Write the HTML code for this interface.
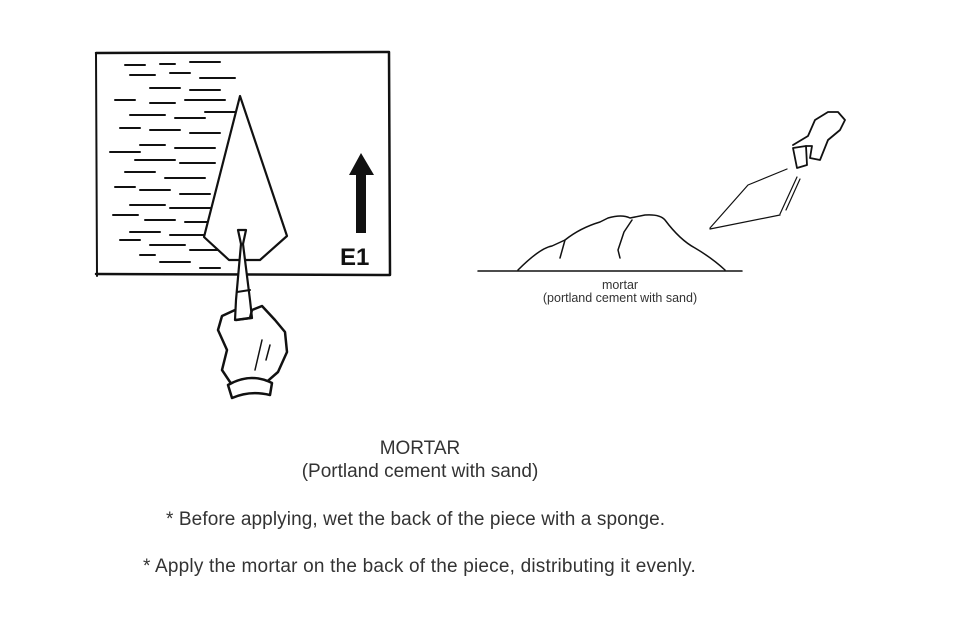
<!DOCTYPE html>
<html><head><style>
html,body{margin:0;padding:0;background:#fff;}
body{width:964px;height:624px;position:relative;overflow:hidden;font-family:"Liberation Sans",sans-serif;color:#333;}
.t{position:absolute;white-space:nowrap;text-align:center;}
</style></head><body>
<svg width="964" height="624" style="position:absolute;left:0;top:0" xmlns="http://www.w3.org/2000/svg">
<g fill="none" stroke="#111" stroke-linecap="round" stroke-linejoin="round">
<path d="M96 53 L389 52 L390 275 L96 274" stroke-width="2.5"/>
<path d="M96 53 L97 276" stroke-width="2"/>
<g stroke-width="2">
<path d="M125 65h20M160 64h15M190 62h30M130 75h25M170 73h20M200 78h35M150 88h30M190 90h30M115 100h20M150 103h25M185 100h40M130 115h35M175 118h30M205 112h30M120 128h20M150 130h30M190 133h30M140 145h25M175 148h40M110 152h30M135 160h40M180 163h35M125 172h30M165 178h40M115 187h20M140 190h30M180 194h30M130 205h35M170 208h40M113 215h25M145 220h30M185 222h35M130 232h30M170 235h40M150 245h35M190 250h30M160 262h30M200 268h20M120 240h20M140 255h15"/>
</g>
<path d="M240 96 L204 237 L229 260 L260 260 L287 236 Z" stroke-width="2.2" fill="#fff"/>
<path d="M238 230 L246 230 L243 244 L250 300 L252 318 L235 320 L236 300 L241 244 Z" stroke-width="2.2" fill="#fff"/>
<path d="M237 292 L250 290" stroke-width="2"/>
<path d="M235 310 L222 316 L218 330 L227 350 L222 370 L232 385 L245 388 L262 386 L278 372 L287 352 L285 332 L275 320 L262 306 L252 310 L250 318 L236 320" stroke-width="2.5" fill="none"/>
<path d="M228 385 Q250 372 272 383 L270 395 Q250 390 232 398 Z" stroke-width="2.5" fill="#fff"/>
<path d="M262 340 L255 370 M270 345 L266 360" stroke-width="1.5"/>
<path d="M361 153 L349 175 L356 175 L356 233 L366 233 L366 175 L374 175 Z" fill="#111" stroke="none"/>
<path d="M478 271 L742 271" stroke-width="1.5"/>
<path d="M518 270 Q540 248 552 246 L565 240 Q580 228 600 222 L608 218 Q622 214 630 218 L645 215 Q660 214 665 220 Q680 240 695 248 Q712 258 725 270" stroke-width="1.5"/>
<path d="M565 240 L560 258 M632 220 L624 232 L618 250 L620 258" stroke-width="1.5"/>
<path d="M710 228 L748 185 L787 169 M780 215 L710 229 M780 214 L797 177 M786 210 L800 179" stroke-width="1.2"/>
<path d="M793 148 L806 146 L807 165 L797 168 Z" stroke-width="1.8" fill="#fff"/>
<path d="M793 145 L808 136 L815 120 L828 112 L838 112 L845 120 L840 130 L828 140 L820 160 L810 158 L812 146 L806 146" stroke-width="1.8"/>
</g>
</svg>
<div class="t" style="left:340px;top:244px;font-weight:bold;font-size:24px;color:#111;">E1</div>
<div class="t" style="left:520px;top:279px;width:200px;font-size:12.5px;color:#333;line-height:13px;">mortar<br>(portland cement with sand)</div>
<div class="t" style="left:220px;top:437px;width:400px;font-size:19px;line-height:23px;">MORTAR<br>(Portland cement with sand)</div>
<div class="t" style="left:166px;top:509px;font-size:19px;letter-spacing:0.1px;">* Before applying, wet the back of the piece with a sponge.</div>
<div class="t" style="left:143px;top:556px;font-size:19px;letter-spacing:0.2px;">* Apply the mortar on the back of the piece, distributing it evenly.</div>
</body></html>
